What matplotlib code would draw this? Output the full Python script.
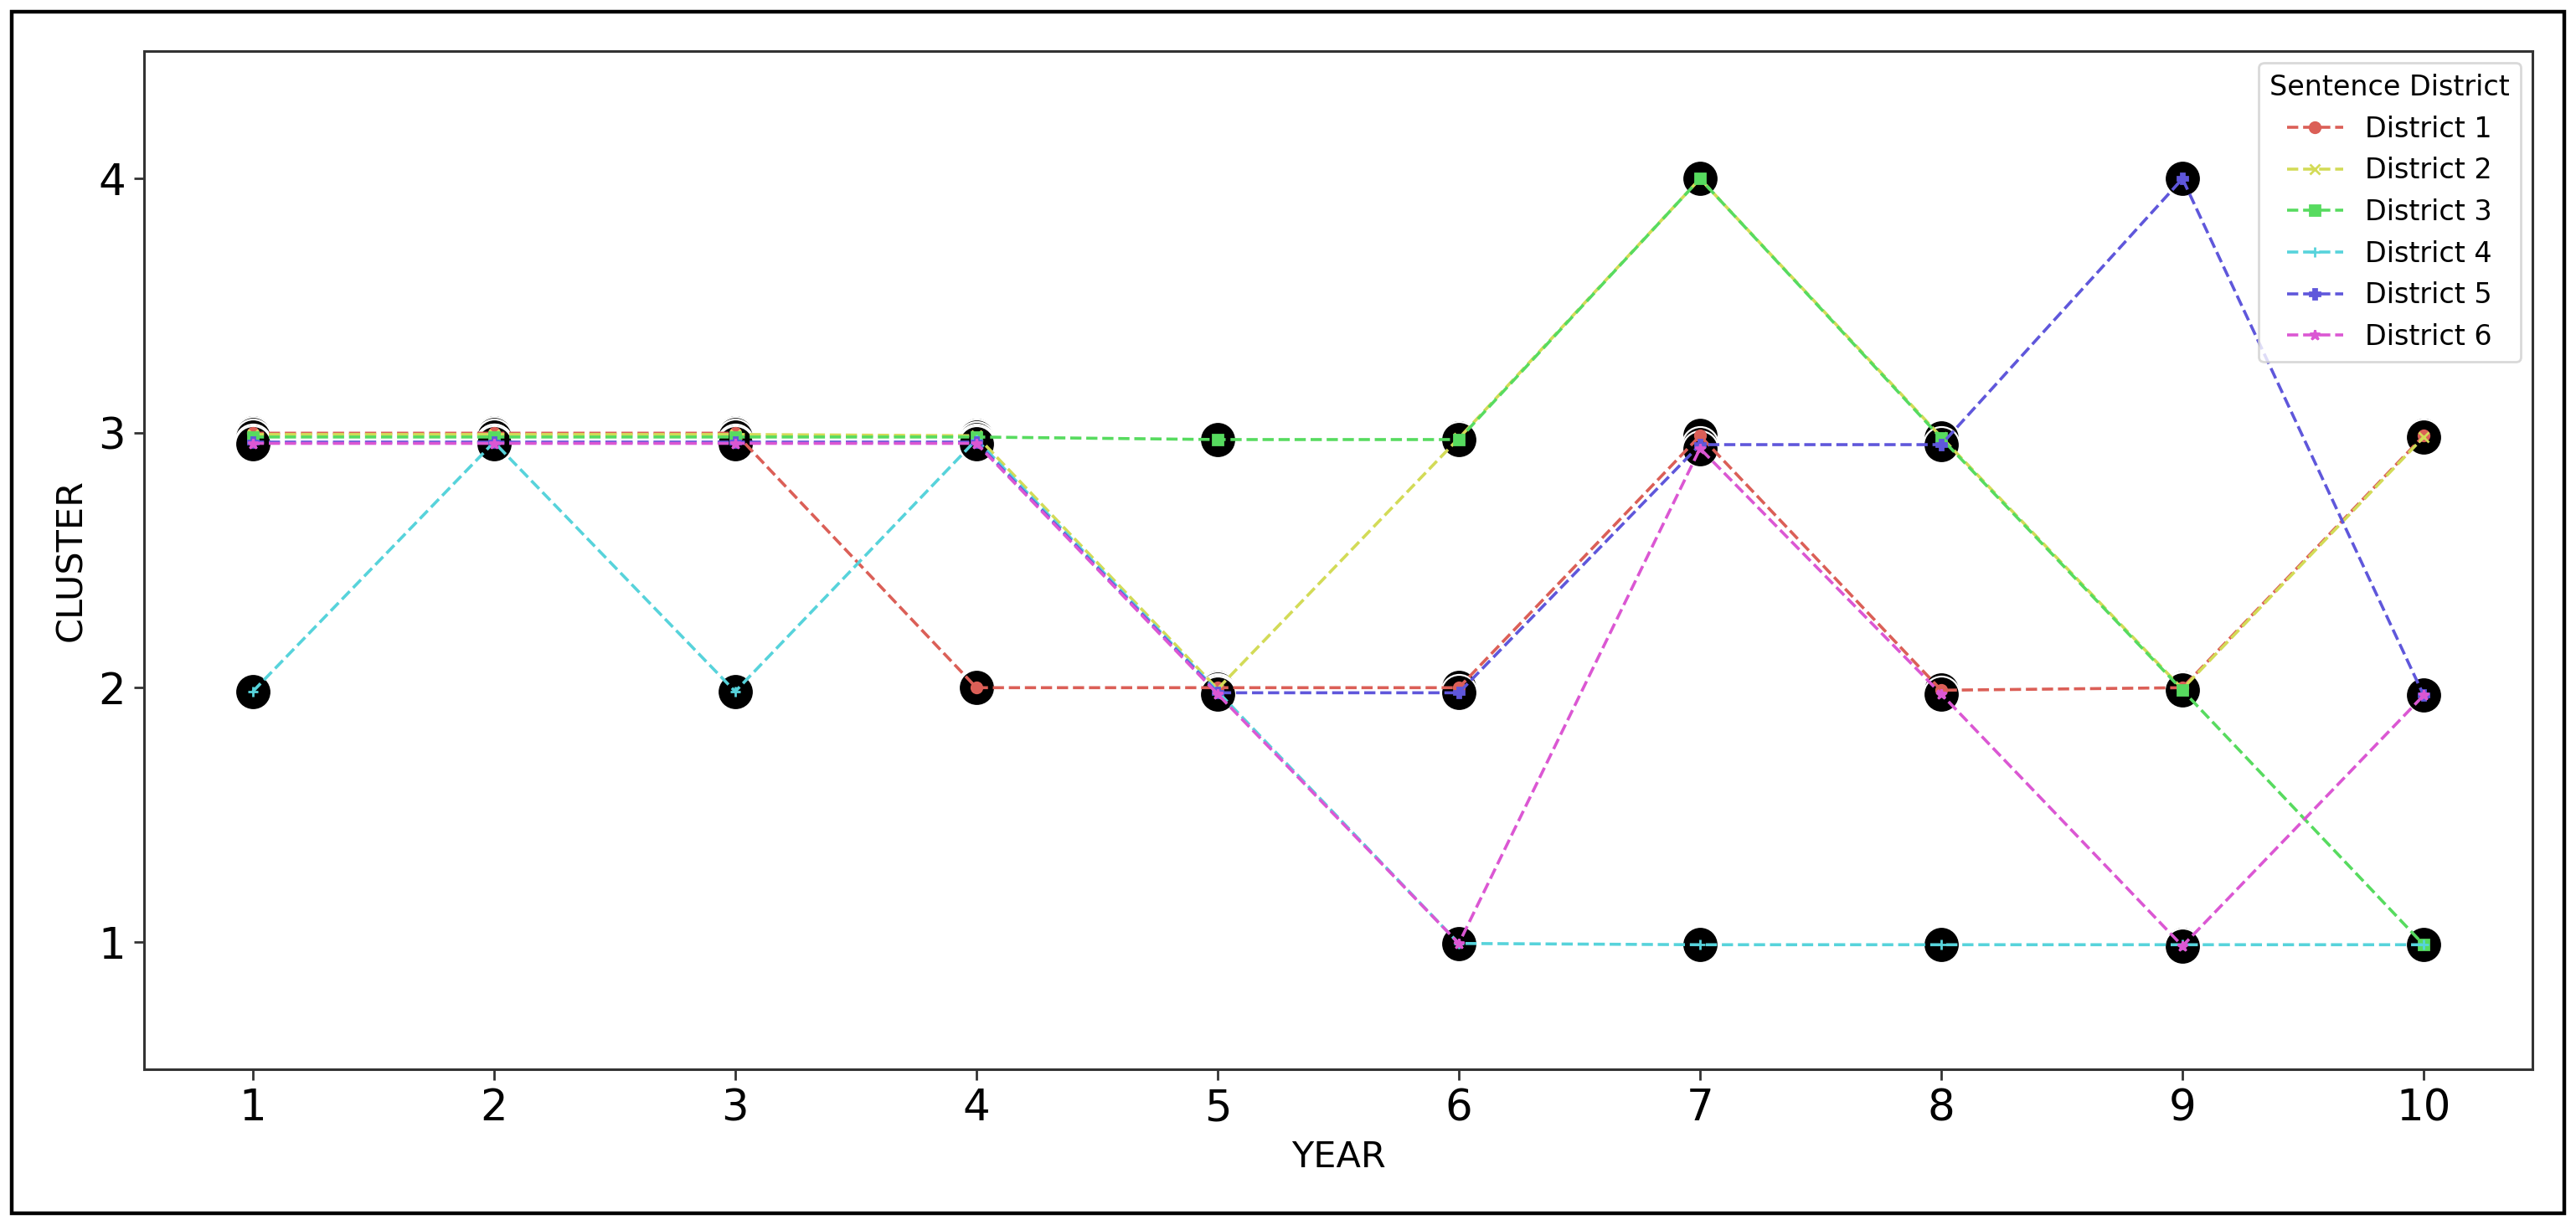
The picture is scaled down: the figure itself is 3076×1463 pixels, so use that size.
import matplotlib
matplotlib.use('Agg')
import matplotlib.pyplot as plt
from matplotlib.patches import Rectangle

# Dados (valores com pequeno deslocamento por distrito)
years = [1, 2, 3, 4, 5, 6, 7, 8, 9, 10]
districts = ['District 1', 'District 2', 'District 3', 'District 4', 'District 5', 'District 6']

district_1 = [3.00, 3.00, 3.00, 2.00, 2.00, 2.00, 2.99, 1.99, 2.00, 2.99]
district_2 = [2.995, 2.995, 2.995, 2.99, 1.995, 2.98, 4.00, 2.985, 1.995, 2.985]
district_3 = [2.985, 2.985, 2.985, 2.985, 2.975, 2.975, 4.00, 2.98, 1.99, 0.99]
district_4 = [1.985, 2.965, 1.985, 2.975, 1.985, 0.995, 0.99, 0.99, 0.99, 0.99]
district_5 = [2.965, 2.965, 2.965, 2.965, 1.98, 1.98, 2.955, 2.955, 4.00, 1.97]
district_6 = [2.96, 2.96, 2.96, 2.96, 1.975, 0.995, 2.94, 1.975, 0.985, 1.97]

series = [district_1, district_2, district_3, district_4, district_5, district_6]
colors = ['#db5f57', '#d3db57', '#57db5f', '#57d3db', '#5f57db', '#db57d3']
markers = ['o', 'x', 's', '+', 'P', '*']

fig = plt.figure(figsize=(15.38, 7.315), dpi=200)
ax = fig.add_axes([0.056, 0.127, 0.927, 0.831])

# círculos pretos atrás de cada ponto
for vals in series:
    ax.scatter(years, vals, s=240, color='black', edgecolors='white',
               linewidths=0.8, zorder=2)

for name, vals, c, m in zip(districts, series, colors, markers):
    ax.plot(years, vals, linestyle='--', color=c, marker=m, markersize=4.5,
            linewidth=1.3, label=name, zorder=3)

ax.set_xlim(0.55, 10.45)
ax.set_ylim(0.5, 4.5)
ax.set_xticks(years)
ax.set_yticks([1, 2, 3, 4])
ax.tick_params(labelsize=18.5, length=4.5, width=1.0, color='#333333')
ax.set_xlabel('YEAR', fontsize=15.5)
ax.set_ylabel('CLUSTER', fontsize=15.5)
for sp in ax.spines.values():
    sp.set_color('#333333')
    sp.set_linewidth(1.1)

leg = ax.legend(title='Sentence District', loc='upper right', fontsize=12,
                title_fontsize=12, frameon=True, fancybox=True,
                borderaxespad=0.4, handlelength=2.0)
leg.get_frame().set_edgecolor('#d0d0d0')

# moldura externa
fig.patches.append(Rectangle((0.0045, 0.0095), 0.991, 0.981, transform=fig.transFigure,
                             fill=False, edgecolor='black', linewidth=1.6))

fig.savefig('out.png', dpi=200, facecolor='white')
